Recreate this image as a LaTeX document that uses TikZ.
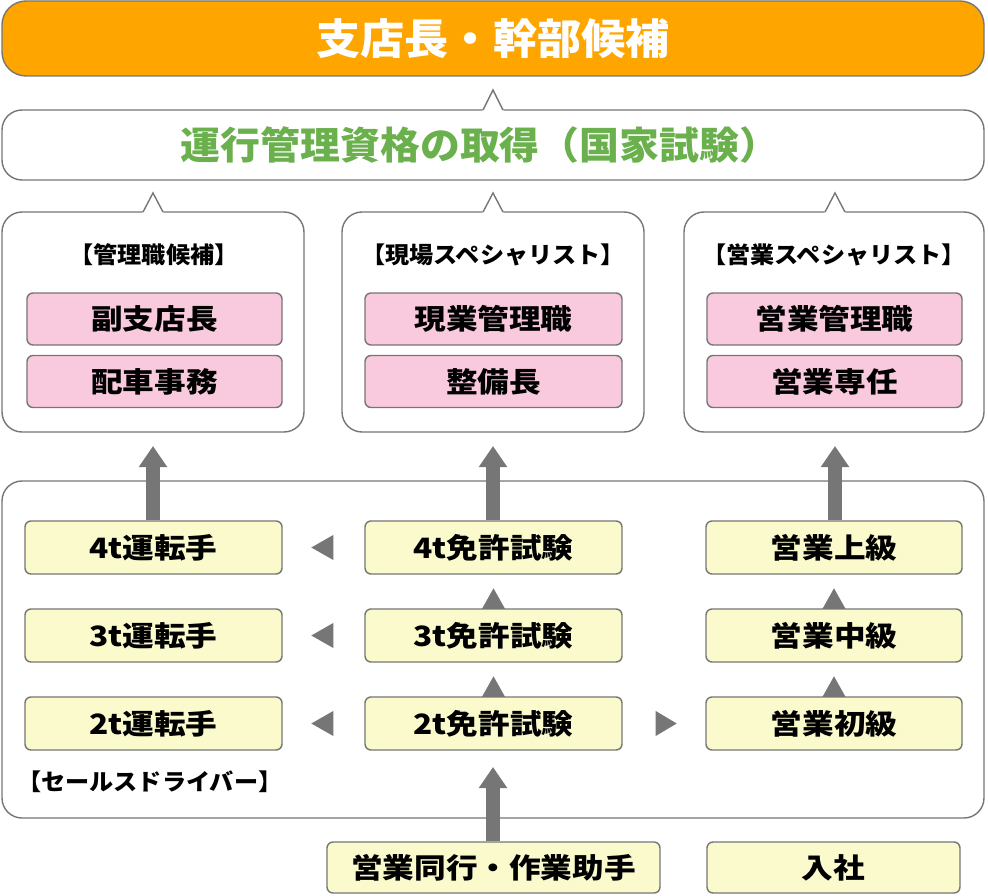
\documentclass[tikz,border=0pt]{standalone}
\usepackage{fontspec}
\setmainfont{Noto Sans CJK JP}
\newfontfamily\jpw{Noto Sans CJK JP}[FakeStretch=1.13]
\newfontfamily\jpt{Noto Sans CJK JP}[FakeStretch=1.05]
\usetikzlibrary{arrows.meta,calc}
\definecolor{bordergray}{HTML}{767676}
\definecolor{arrowgray}{HTML}{767676}
\definecolor{topor}{HTML}{FFA500}
\definecolor{grn}{HTML}{6AB04C}
\definecolor{pinkf}{HTML}{F9C9DD}
\definecolor{yelf}{HTML}{FAFACC}
\tikzset{
  base/.style={draw=bordergray, line width=1.4pt},
  bigbox/.style={base, rounded corners=20pt, fill=white, inner sep=0pt},
  pinkbox/.style={base, rounded corners=6pt, fill=pinkf, inner sep=0pt, minimum width=255pt, minimum height=52pt, font=\jpw\fontsize{28}{30}\selectfont\bfseries},
  yelbox/.style={base, rounded corners=6pt, fill=yelf, inner sep=0pt, minimum width=257pt, minimum height=53pt, font=\jpw\fontsize{28}{30}\selectfont\bfseries},
  hdr/.style={font=\jpt\fontsize{23}{25}\selectfont\bfseries, inner sep=0pt},
  fatarrow/.style={draw=arrowgray, line width=14pt, -{Triangle[width=27pt,length=21pt]}},
}
\begin{document}
\begin{tikzpicture}[x=1pt,y=-1pt]
\useasboundingbox (0,0) rectangle (988,896);
% top box
\node[base, rounded corners=24pt, fill=topor, minimum width=982pt, minimum height=75pt, inner sep=0pt,
      text=white, font=\jpt\fontsize{42}{44}\selectfont\bfseries] (top) at (493,38.5) {支店長・幹部候補};
% qualification callout
\node[bigbox, minimum width=982pt, minimum height=70pt] (qual) at (493,145) {};
\fill[white] (482,111.5) -- (493,90) -- (504,111.5) -- cycle;
\draw[base, line join=miter] (483,110) -- (493,90) -- (503,110);
\node[text=grn, font=\jpt\fontsize{38}{40}\selectfont\bfseries, inner sep=0pt] (qualtxt) at (480,145) {運行管理資格の取得（国家試験）};
% three callouts
\foreach \n/\cx/\w in {c1/153/302, c2/493/302, c3/834/300}{
  \node[bigbox, minimum width=\w pt, minimum height=220pt] (\n) at (\cx,322) {};
}
\foreach \ax in {153,493,835}{
  \fill[white] (\ax-11,213.5) -- (\ax,193) -- (\ax+11,213.5) -- cycle;
  \draw[base, line join=miter] (\ax-10,212) -- (\ax,193) -- (\ax+10,212);
}
\node[hdr] (h1) at (154,255) {【管理職候補】};
\node[hdr] (h2) at (493,255) {【現場スペシャリスト】};
\node[hdr] (h3) at (834,255) {【営業スペシャリスト】};
\node[pinkbox] (p11) at (154.5,319) {副支店長};
\node[pinkbox] (p12) at (154.5,381.5) {配車事務};
\node[pinkbox, minimum width=257pt] (p21) at (493.5,319) {現業管理職};
\node[pinkbox, minimum width=257pt] (p22) at (493.5,381.5) {整備長};
\node[pinkbox] (p31) at (834.5,319) {営業管理職};
\node[pinkbox] (p32) at (834.5,381.5) {営業専任};
% container
\node[bigbox, minimum width=982pt, minimum height=337pt] (cont) at (493,649.5) {};
\node[hdr, anchor=west] (sdlabel) at (17,782) {【セールスドライバー】};
% yellow boxes
\node[yelbox] (d4) at (153.5,547.5) {4t運転手};
\node[yelbox] (d3) at (153.5,635.5) {3t運転手};
\node[yelbox] (d2) at (153.5,723.5) {2t運転手};
\node[yelbox] (l4) at (493.5,547.5) {4t免許試験};
\node[yelbox] (l3) at (493.5,635.5) {3t免許試験};
\node[yelbox] (l2) at (493.5,723.5) {2t免許試験};
\node[yelbox, minimum width=256pt] (s3) at (834,547.5) {営業上級};
\node[yelbox, minimum width=256pt] (s2) at (834,635.5) {営業中級};
\node[yelbox, minimum width=256pt] (s1) at (834,723.5) {営業初級};
\node[yelbox, minimum width=333pt, minimum height=51pt] (assist) at (493.5,867.5) {営業同行・作業助手};
\node[yelbox, minimum width=253pt, minimum height=51pt] (join) at (833.5,867.5) {入社};
% fat arrows
\coordinate (t1) at (153,446);
\coordinate (t2) at (493,446);
\coordinate (t3) at (835,446);
\coordinate (t4) at (493,767);
\draw[fatarrow] (d4.north -| t1) -- (t1);
\draw[fatarrow] (l4.north -| t2) -- (t2);
\draw[fatarrow] (s3.north -| t3) -- (t3);
\draw[fatarrow] (assist.north -| t4) -- (t4);
% small up triangles
\foreach \nm in {l3,l2,s2,s1}{
  \fill[arrowgray] (\nm.north) ++(-11.5,0.5) -- ++(23,0) -- ++(-11.5,-20.5) -- cycle;
}
% small left triangles
\foreach \nm in {l4,l3,l2}{
  \fill[arrowgray] ($(\nm.west)+(-53,0)$) -- ++(22,-12.5) -- ++(0,25) -- cycle;
}
% small right triangle
\fill[arrowgray] ($(l2.east)+(54,0)$) -- ++(-21,-12.5) -- ++(0,25) -- cycle;
\end{tikzpicture}
\end{document}
